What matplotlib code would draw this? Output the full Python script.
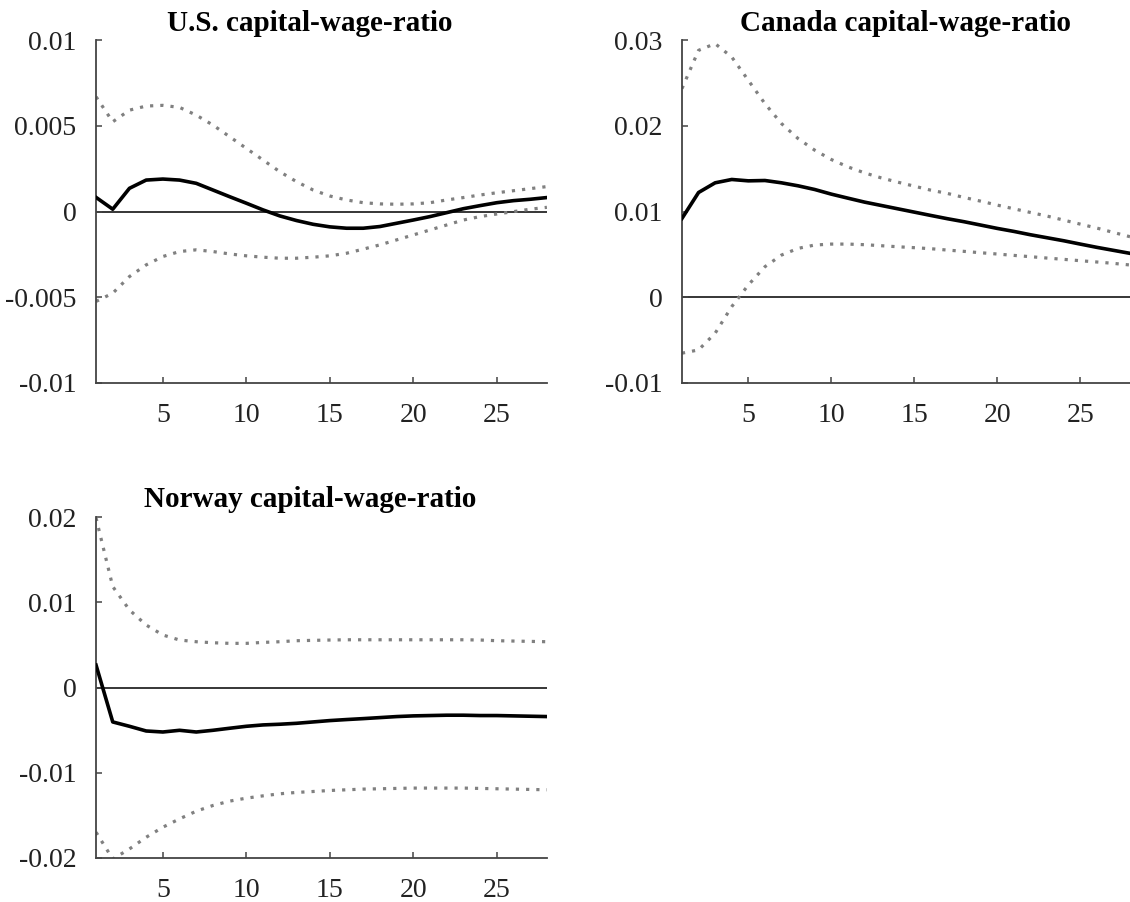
import matplotlib
matplotlib.use("Agg")
import matplotlib.pyplot as plt

plt.rcParams['font.family'] = ['Liberation Serif', 'DejaVu Serif']
plt.rcParams['axes.unicode_minus'] = False

horizon = list(range(1, 29))

# impulse responses with error bands
us_irf = [0.00083, 0.00014, 0.00136, 0.00184, 0.0019, 0.00184, 0.00165, 0.00126,
          0.00087, 0.00049, 0.0001, -0.00025, -0.00052, -0.00074, -0.00089, -0.00097,
          -0.00097, -0.00087, -0.00068, -0.00049, -0.00029, -0.00006, 0.00017, 0.00035,
          0.00052, 0.00064, 0.00072, 0.00082]
us_upper = [0.0067, 0.00524, 0.00592, 0.00616, 0.0062, 0.00608, 0.00563, 0.00505,
            0.00437, 0.00369, 0.00301, 0.00233, 0.00175, 0.00126, 0.00091, 0.00068,
            0.00052, 0.00045, 0.00043, 0.00045, 0.00052, 0.00068, 0.00082, 0.00097,
            0.0011, 0.00122, 0.00134, 0.00146]
us_lower = [-0.00524, -0.00476, -0.00379, -0.00311, -0.00262, -0.00233, -0.00223, -0.00233,
            -0.00247, -0.00258, -0.00266, -0.00272, -0.00272, -0.00266, -0.00258, -0.00243,
            -0.00219, -0.00194, -0.00165, -0.00136, -0.00107, -0.00078, -0.00049, -0.00029,
            -0.00014, 0.0, 0.00014, 0.00025]

ca_irf = [0.0092, 0.01223, 0.01336, 0.01375, 0.01359, 0.01363, 0.01336, 0.01301,
          0.01258, 0.01204, 0.01157, 0.01111, 0.01072, 0.01033, 0.00994, 0.00955,
          0.00917, 0.00882, 0.00843, 0.00804, 0.00769, 0.0073, 0.00695, 0.0066,
          0.00621, 0.00583, 0.00548, 0.00513]
ca_upper = [0.02435, 0.02882, 0.0296, 0.02804, 0.02532, 0.0226, 0.02027, 0.01852,
            0.01717, 0.01608, 0.01522, 0.01452, 0.01394, 0.01344, 0.01297, 0.0125,
            0.01212, 0.01165, 0.01122, 0.01076, 0.01033, 0.0099, 0.00948, 0.00901,
            0.00854, 0.00808, 0.00757, 0.00707]
ca_lower = [-0.00652, -0.00614, -0.00419, -0.00109, 0.00144, 0.00357, 0.00493, 0.00571,
            0.0061, 0.00621, 0.00621, 0.00614, 0.00602, 0.0059, 0.00579, 0.00567,
            0.00551, 0.00536, 0.0052, 0.00505, 0.00489, 0.00474, 0.00458, 0.00443,
            0.00427, 0.00412, 0.00396, 0.00377]

no_irf = [0.00263, -0.00404, -0.00455, -0.0051, -0.00522, -0.00502, -0.00522, -0.00502,
          -0.00478, -0.00455, -0.00439, -0.00431, -0.0042, -0.00404, -0.00388, -0.00376,
          -0.00365, -0.00353, -0.00341, -0.00333, -0.00329, -0.00325, -0.00325, -0.00329,
          -0.00329, -0.00333, -0.00337, -0.00341]
no_upper = [0.01988, 0.01184, 0.0091, 0.00733, 0.00616, 0.00557, 0.00537, 0.00525,
            0.00518, 0.00518, 0.00529, 0.00537, 0.00549, 0.00553, 0.00557, 0.0056,
            0.0056, 0.0056, 0.0056, 0.0056, 0.0056, 0.0056, 0.0056, 0.00557,
            0.00549, 0.00545, 0.00541, 0.00537]
no_lower = [-0.01698, -0.02012, -0.01894, -0.01757, -0.01639, -0.01541, -0.01451, -0.01384,
            -0.01333, -0.01298, -0.01271, -0.01247, -0.01231, -0.0122, -0.01208, -0.012,
            -0.01192, -0.01188, -0.01184, -0.0118, -0.0118, -0.0118, -0.0118, -0.01184,
            -0.01188, -0.01192, -0.01196, -0.012]

x_ticks = [5, 10, 15, 20, 25]
us_yticks = [-0.01, -0.005, 0, 0.005, 0.01]
us_ylabels = ['-0.01', '-0.005', '0', '0.005', '0.01']
ca_yticks = [-0.01, 0, 0.01, 0.02, 0.03]
ca_ylabels = ['-0.01', '0', '0.01', '0.02', '0.03']
no_yticks = [-0.02, -0.01, 0, 0.01, 0.02]
no_ylabels = ['-0.02', '-0.01', '0', '0.01', '0.02']


def irf_panel(ax, title, irf, upper, lower, yticks, ylabels, tx=0.5):
    ax.axhline(0, color='black', lw=1.1, zorder=1)
    ax.plot(horizon, upper, color='#808080', lw=2.3, linestyle=(0, (1.0, 2.2)))
    ax.plot(horizon, lower, color='#808080', lw=2.3, linestyle=(0, (1.0, 2.2)))
    ax.plot(horizon, irf, color='black', lw=2.6, zorder=3)
    ax.set_xlim(1, 28)
    ax.set_ylim(yticks[0], yticks[-1])
    ax.set_xticks(x_ticks)
    ax.set_xticklabels([str(t) for t in x_ticks])
    ax.set_yticks(yticks)
    ax.set_yticklabels(ylabels)
    for s in ['top', 'right']:
        ax.spines[s].set_visible(False)
    for s in ['left', 'bottom']:
        ax.spines[s].set_color('#444444')
        ax.spines[s].set_linewidth(1.3)
    ax.tick_params(axis='both', direction='in', length=4, width=1.1, color='#444444',
                   labelsize=20, labelcolor='#222222')
    ax.tick_params(axis='y', pad=14)
    ax.tick_params(axis='x', pad=14.5)
    ax.set_title(title, fontsize=21, fontweight='bold', pad=7, x=tx)


fig = plt.figure(figsize=(11.3, 9.02), dpi=100)
ax1 = fig.add_axes([0.085, 0.5754, 0.399, 0.380])
ax2 = fig.add_axes([0.6035, 0.5754, 0.3965, 0.380])
ax3 = fig.add_axes([0.085, 0.0488, 0.399, 0.378])

irf_panel(ax1, 'U.S. capital-wage-ratio', us_irf, us_upper, us_lower, us_yticks, us_ylabels, tx=0.475)
irf_panel(ax2, 'Canada capital-wage-ratio', ca_irf, ca_upper, ca_lower, ca_yticks, ca_ylabels)
irf_panel(ax3, 'Norway capital-wage-ratio', no_irf, no_upper, no_lower, no_yticks, no_ylabels, tx=0.475)

fig.savefig('out.png', dpi=100)
